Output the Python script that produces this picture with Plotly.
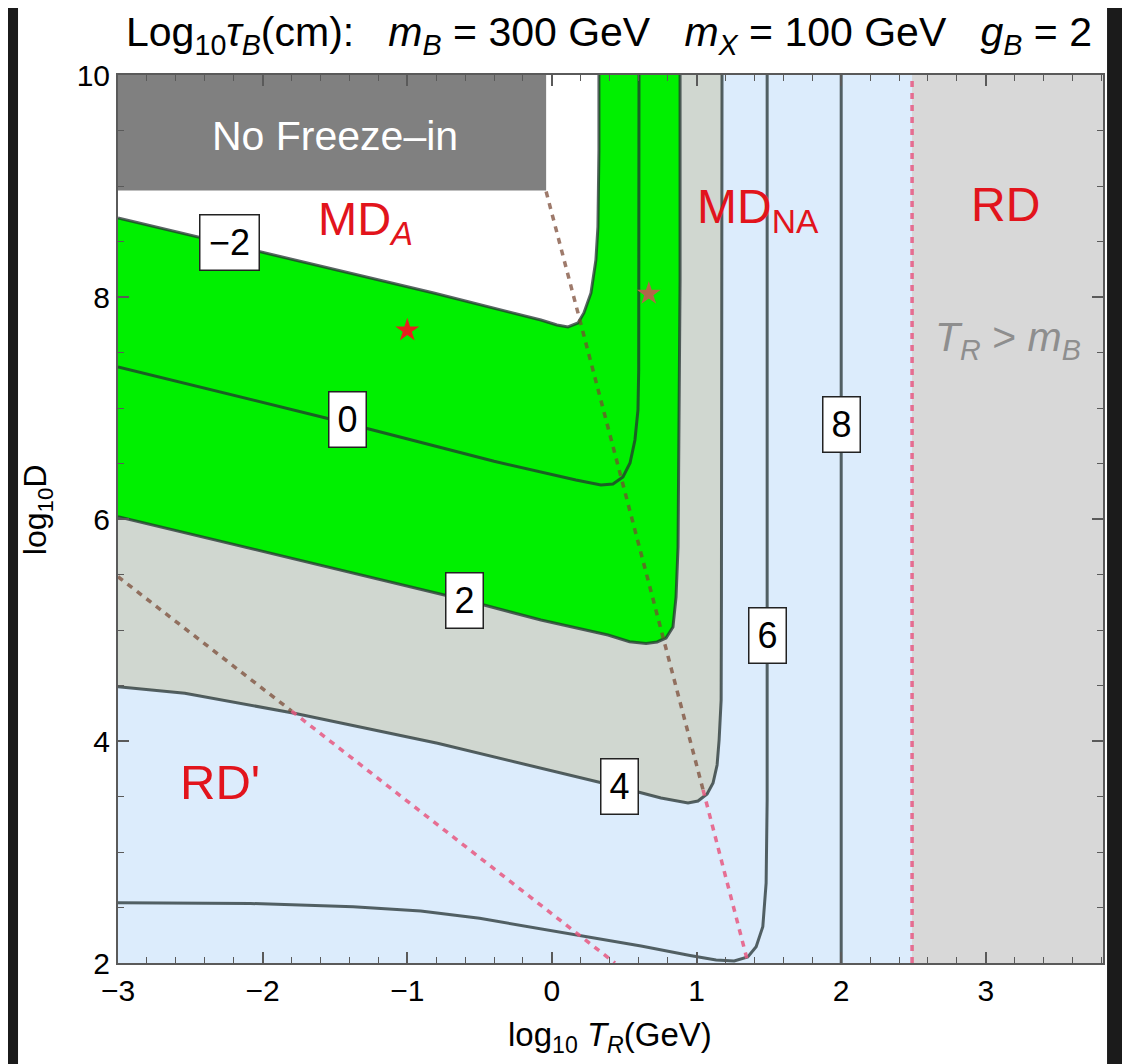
import plotly.graph_objects as go

# ---------------- data ----------------
X_RANGE = [-3.0, 3.81]
Y_RANGE = [2.0, 10.0]

# contour lines of log10 tau_B : (log10 T_R, log10 D)
C_M2_X = [-3.0, -0.817, -0.076, 0.035, 0.111, 0.180, 0.221, 0.270, 0.304, 0.318, 0.325, 0.325]
C_M2_Y = [8.712, 8.036, 7.793, 7.748, 7.730, 7.766, 7.856, 8.036, 8.333, 8.631, 9.324, 10.0]

C_0_X = [-3.0, -1.5, -0.4, 0.0, 0.166, 0.339, 0.422, 0.491, 0.540, 0.574, 0.595, 0.600, 0.602, 0.602]
C_0_Y = [7.37, 6.89, 6.52, 6.40, 6.351, 6.306, 6.315, 6.378, 6.505, 6.712, 6.982, 7.342, 8.153, 10.0]

C_2_X = [-3.0, -0.600, -0.076, 0.388, 0.537, 0.651, 0.727, 0.789, 0.837, 0.858, 0.872, 0.879, 0.886, 0.886]
C_2_Y = [6.021, 5.270, 5.090, 4.955, 4.895, 4.878, 4.892, 4.928, 5.027, 5.297, 5.748, 6.649, 8.153, 10.0]

C_4_X = [-3.0, -2.538, -1.781, -0.791, 0.464, 0.754, 0.941, 1.010, 1.073, 1.114, 1.142, 1.156, 1.170, 1.172, 1.176]
C_4_Y = [4.489, 4.430, 4.250, 3.979, 3.586, 3.486, 3.441, 3.459, 3.523, 3.622, 3.784, 4.009, 4.369, 5.270, 10.0]

C_6_X = [-3.0, -2.083, -1.374, -0.907, -0.500, -0.145, 0.228, 0.616, 0.955, 1.135, 1.260, 1.354, 1.412, 1.458, 1.481, 1.488, 1.488]
C_6_Y = [2.543, 2.536, 2.507, 2.468, 2.403, 2.324, 2.237, 2.153, 2.068, 2.027, 2.018, 2.054, 2.147, 2.327, 2.721, 3.468, 10.0]

C_8_X = [2.0, 2.0]
C_8_Y = [2.0, 10.0]

# contour labels
LABEL_TEXT = ["\u22122", "0", "2", "4", "6", "8"]
LABEL_X = [-2.232, -1.412, -0.602, 0.464, 1.488, 2.0]
LABEL_Y = [8.491, 6.896, 5.270, 3.586, 4.946, 6.847]

# "No Freeze-in" box
NOFI_X = [-3.0, -0.04, -0.04, -3.0]
NOFI_Y = [8.96, 8.96, 10.0, 10.0]

# T_R > m_B boundary (log10 300)
RD_X = [2.49, 3.81, 3.81, 2.49]
RD_Y = [2.0, 2.0, 10.0, 10.0]
RD_LINE_X = [2.49, 2.49]
RD_LINE_Y = [2.0, 10.0]

# dashed boundary lines (upper part / lower part)
DA_UP_X = [-0.04, 1.045]
DA_UP_Y = [8.95, 3.56]
DA_LO_X = [1.045, 1.356]
DA_LO_Y = [3.56, 2.0]
DB_UP_X = [-3.0, -1.80]
DB_UP_Y = [5.48, 4.27]
DB_LO_X = [-1.80, 0.436]
DB_LO_Y = [4.27, 2.0]

# benchmark stars
STAR_X = [-1.0, 0.67]
STAR_Y = [7.70, 8.03]
STAR_C = ["#e8201f", "#b0684a"]

# ---------------- styles ----------------
FONT = "Liberation Sans, Arial, Helvetica, sans-serif"
GREEN = "#00f000"
GREYGREEN = "#d0d7d0"
LIGHTBLUE = "#dcecfc"
RDGREY = "#d8d8d8"
LINE_C = "rgba(35,48,48,0.75)"
RED = "#e2141c"
BROWN_D = "rgba(120,70,50,0.72)"
PINK_D = "rgba(232,88,128,0.85)"

fig = go.Figure()

def poly(xs, ys, color):
    fig.add_trace(go.Scatter(x=xs, y=ys, mode="lines", fill="toself", fillcolor=color,
                             line=dict(width=0, color=color), hoverinfo="skip", showlegend=False))

# filled regions
poly(RD_X, RD_Y, RDGREY)
poly(C_4_X + [X_RANGE[0]], C_4_Y + [Y_RANGE[1]], GREYGREEN)
poly(C_2_X + [X_RANGE[0]], C_2_Y + [Y_RANGE[1]], GREEN)
poly(C_M2_X + [X_RANGE[0]], C_M2_Y + [Y_RANGE[1]], "#ffffff")
poly(NOFI_X, NOFI_Y, "#808080")

# contour lines
for xs, ys in [(C_M2_X, C_M2_Y), (C_0_X, C_0_Y), (C_2_X, C_2_Y), (C_4_X, C_4_Y),
               (C_6_X, C_6_Y), (C_8_X, C_8_Y)]:
    fig.add_trace(go.Scatter(x=xs, y=ys, mode="lines", line=dict(color=LINE_C, width=3),
                             hoverinfo="skip", showlegend=False))

# dashed lines
DASH = "6px,6px"
for xs, ys, c in [(DA_UP_X, DA_UP_Y, BROWN_D), (DA_LO_X, DA_LO_Y, PINK_D),
                  (DB_UP_X, DB_UP_Y, BROWN_D), (DB_LO_X, DB_LO_Y, PINK_D),
                  (RD_LINE_X, RD_LINE_Y, PINK_D)]:
    fig.add_trace(go.Scatter(x=xs, y=ys, mode="lines", line=dict(color=c, width=3.5, dash=DASH),
                             hoverinfo="skip", showlegend=False))

# stars
fig.add_trace(go.Scatter(x=STAR_X, y=STAR_Y, mode="markers",
                         marker=dict(symbol="star", size=18, color=STAR_C, line=dict(width=0)),
                         hoverinfo="skip", showlegend=False))

ann = []
# contour labels
for t, x, y in zip(LABEL_TEXT, LABEL_X, LABEL_Y):
    ann.append(dict(x=x, y=y, xref="x", yref="y", text=t, showarrow=False,
                    font=dict(family=FONT, size=36, color="black"),
                    width=(48 if len(t) > 1 else 26), height=44,
                    bgcolor="white", bordercolor="#222", borderwidth=1.5, borderpad=5,
                    xanchor="center", yanchor="middle"))

def txt(x, y, t, size, color, xref="x", yref="y", angle=0):
    ann.append(dict(x=x, y=y, xref=xref, yref=yref, text=t, showarrow=False, textangle=angle,
                    font=dict(family=FONT, size=size, color=color),
                    xanchor="center", yanchor="middle"))

txt(-1.502, 9.45, "No Freeze\u2013in", 41, "white")
txt(-1.287, 8.676, "MD<sub><i>A</i></sub>", 47, RED)
txt(1.426, 8.784, "MD<sub>NA</sub>", 48, RED)
txt(3.135, 8.829, "RD", 48, RED)
txt(3.156, 7.613, "<i>T</i><sub><i>R</i></sub> > <i>m</i><sub><i>B</i></sub>", 41, "#8e8e8e")
txt(-2.298, 3.631, "RD'", 49, RED)

# title and axis titles (paper coordinates)
txt(0.498, 1.0445,
    "Log<sub>10</sub><i>\u03c4<sub>B</sub></i>(cm):\u00a0\u00a0\u00a0<i>m<sub>B</sub></i> = 300 GeV"
    "\u00a0\u00a0\u00a0<i>m<sub>X</sub></i> = 100 GeV\u00a0\u00a0\u00a0<i>g<sub>B</sub></i> = 2",
    41, "black", "paper", "paper")
txt(0.4995, -0.0833, "log<sub>10</sub> <i>T<sub>R</sub></i>(GeV)", 33, "black", "paper", "paper")
txt(-0.0822, 0.510, "log<sub>10</sub>D", 32, "black", "paper", "paper", -90)

axis_common = dict(showline=True, linecolor="#5a5a5a", linewidth=2, mirror="ticks",
                   ticks="inside", ticklen=11, tickwidth=1.5, tickcolor="#5a5a5a",
                   showgrid=False, zeroline=False,
                   tickfont=dict(family=FONT, size=30, color="black"))

fig.update_xaxes(range=X_RANGE, tick0=0, dtick=1,
                 minor=dict(ticks="inside", ticklen=6, tickwidth=1.2, tickcolor="#5a5a5a",
                            dtick=0.2, tick0=0, showgrid=False),
                 **axis_common)
fig.update_yaxes(range=Y_RANGE, tick0=0, dtick=2,
                 minor=dict(ticks="inside", ticklen=6, tickwidth=1.2, tickcolor="#5a5a5a",
                            dtick=0.5, tick0=0, showgrid=False),
                 **axis_common)

# dark border strips outside the white panel
shapes = [
    dict(type="rect", xref="paper", yref="paper", x0=-0.3, x1=-0.1015, y0=-0.3, y1=1.3,
         fillcolor="#1b1b1b", line=dict(width=0), layer="above"),
    dict(type="rect", xref="paper", yref="paper", x0=1.0041, x1=1.3, y0=-0.3, y1=1.3,
         fillcolor="#1b1b1b", line=dict(width=0), layer="above"),
]

# the page adds an 8 px body margin, so the margins are reduced by 8 px
fig.update_layout(width=1130, height=1064,
                  margin=dict(l=110, r=35, t=67, b=109),
                  paper_bgcolor="white", plot_bgcolor=LIGHTBLUE,
                  annotations=ann, shapes=shapes, showlegend=False,
                  font=dict(family=FONT))

fig.write_html("out.html")
